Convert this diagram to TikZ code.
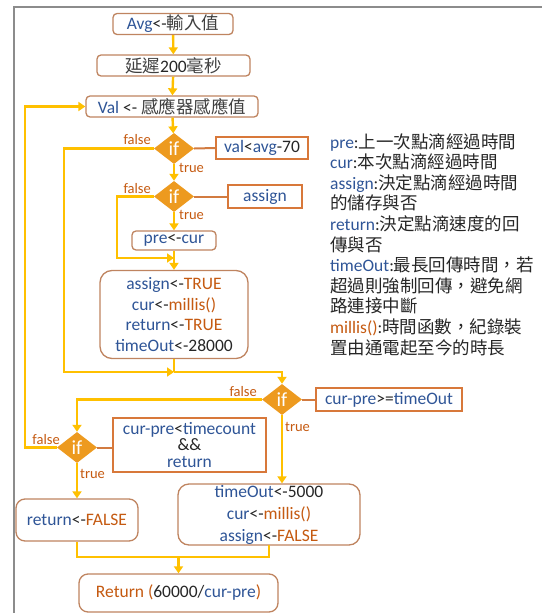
\documentclass[tikz,border=0pt]{standalone}
\usepackage{fontspec}
\setmainfont{Carlito}
\newfontfamily\cjk{Noto Sans CJK TC}
\usetikzlibrary{shapes.geometric,arrows.meta}

\definecolor{cblue}{HTML}{2F5597}
\definecolor{corange}{HTML}{C55A11}
\definecolor{ctext}{HTML}{262626}
\definecolor{czh}{HTML}{404040}
\definecolor{cgold}{HTML}{FFC000}
\definecolor{cdia}{HTML}{ED9A1F}
\definecolor{cround}{HTML}{BF8460}
\definecolor{csharp}{HTML}{D8783A}
\definecolor{clink}{HTML}{D27B40}
\definecolor{cframe}{HTML}{8C8C8C}

% coloured pieces of text
\newcommand\bl[1]{\textcolor{cblue}{#1}}
\newcommand\og[1]{\textcolor{corange}{#1}}
\newcommand\zh[1]{{\cjk\color{czh}#1}}
\newcommand\zhk[1]{{\cjk\color{ctext}#1}}

\tikzset{
  txt/.style={font=\fontsize{17.5}{20.6}\selectfont, text=ctext},
  rbox/.style={txt, draw=cround, line width=1.3pt, fill=white, rounded corners=4pt,
               inner sep=0pt, align=center},
  sbox/.style={txt, draw=csharp, line width=1.3pt, fill=white,
               inner sep=0pt, align=center},
  ifnode/.style={shape=diamond, fill=cdia, draw=none, inner sep=0pt, aspect=1.29,
                 minimum width=40pt, minimum height=31pt, text=white,
                 font=\fontsize{20}{20}\selectfont},
  flow/.style={draw=cgold, line width=2.4pt, line join=miter},
  flowarr/.style={flow, -{Triangle[length=7pt,width=9pt]}},
  link/.style={draw=clink, line width=2pt},
  lab/.style={font=\fontsize{14.5}{15}\selectfont, text=corange, inner sep=0pt},
}

\begin{document}
\begin{tikzpicture}[x=1pt,y=-1pt]
\useasboundingbox (0,0) rectangle (542,613);

% frame
\draw[cframe, line width=2pt] (14,613) -- (14,7) -- (542,7);

% process boxes
\node[rbox, minimum width=120pt, minimum height=21pt] (n1) at (173,24)
  {\bl{Avg}<-\zh{輸入值}};
\node[rbox, minimum width=153pt, minimum height=21pt] (n2) at (173.5,65.5)
  {\zh{延遲}200\zh{毫秒}};
\node[rbox, minimum width=172pt, minimum height=21pt] (n3) at (172,106.5)
  {\bl{Val} <- \zh{感應器感應值}};

\node[ifnode] (d1) at (174,148.5) {if};
\node[sbox, minimum width=92pt, minimum height=22pt] (c1) at (262,148)
  {\bl{val}<\bl{avg}-70};

\node[ifnode] (d2) at (174,196.5) {if};
\node[sbox, minimum width=74pt, minimum height=23pt] (c2) at (265,196.5)
  {\bl{assign}};

\node[rbox, minimum width=84pt, minimum height=19pt] (n4) at (174,240.5)
  {\bl{pre}<-\bl{cur}};

\node[rbox, rounded corners=12pt, minimum width=148pt, minimum height=88pt] (n5) at (174,314.5)
  {\bl{assign}<-\og{TRUE}\\
   \bl{cur}<-\og{millis()}\\
   \bl{return}<-\og{TRUE}\\
   \bl{timeOut}<-28000};

\node[ifnode] (d3) at (282,399.5) {if};
\node[sbox, minimum width=146pt, minimum height=23pt] (c3) at (389,399.5)
  {\bl{cur-pre}>=\bl{timeOut}};

\node[ifnode] (d4) at (77,447.5) {if};
\node[sbox, minimum width=153pt, minimum height=54pt, font=\fontsize{17.5}{16.5}\selectfont] (c4) at (189.5,445)
  {\bl{cur-pre}<\bl{timecount}\\ \&\&\\ \bl{return}};

\node[rbox, rounded corners=9pt, minimum width=122pt, minimum height=42pt] (n6) at (77,520)
  {\bl{return}<-\og{FALSE}};
\node[rbox, rounded corners=11pt, minimum width=182pt, minimum height=61pt,
      font=\fontsize{17.5}{22}\selectfont] (n7) at (269,514.5)
  {\bl{timeOut}<-5000\\ \bl{cur}<-\og{millis()}\\ \bl{assign}<-\og{FALSE}};

\node[rbox, rounded corners=9pt, minimum width=199pt, minimum height=38pt] (n8) at (178.5,593)
  {\og{Return (}60000/\bl{cur-pre}\og{)}};

% junction points
\coordinate (j1) at (174,258);
\coordinate (j2) at (174,372);
\coordinate (j3) at (178.5,557);

% main flow
\draw[flowarr] (n1) -- (n2);
\draw[flowarr] (n2) -- (n3);
\draw[flowarr] (n3) -- (d1);
\draw[flowarr] (d1) -- (d2);
\draw[flowarr] (d2) -- (n4);
\draw[flow] (n4) -- (j1);
\draw[flowarr] (d2.west) -- (117,196.5) -- (117,258) -- (j1);
\draw[flowarr] (j1) -- (n5);
\draw[flowarr] (d1.west) -- (64,148.5) -- (64,372) -- (j2);
\draw[flow] (n5) -- (j2);
\draw[flowarr] (j2) -- (282,372) -- (d3.north);
\draw[flowarr] (d3.west) -- (77,399.5) -- (d4.north);
\draw[flowarr] (d4.west) -- (25,447.5) -- (25,106.5) -- (n3.west);
\draw[flowarr] (d4) -- (n6);
\draw[flowarr] (d3.south) -- (d3.south |- n7.north);
\draw[flow] (n6.south) -- (77,557) -- (269,557) -- (269,545);
\draw[flowarr] (j3) -- (n8);

% condition links
\draw[link] (d1.east) -- (c1.west);
\draw[link] (d2.east) -- (c2.west);
\draw[link] (d3.east) -- (c3.west);
\draw[link] (d4.east) -- (d4.east -| c4.west);

% branch labels
\node[lab, anchor=east] (f1) at (151,140) {false};
\node[lab, anchor=west] (t1) at (179,168) {true};
\node[lab, anchor=east] (f2) at (151,189) {false};
\node[lab, anchor=west] (t2) at (179,215) {true};
\node[lab, anchor=east] (f3) at (257,392) {false};
\node[lab, anchor=west] (t3) at (285,427) {true};
\node[lab, anchor=east] (f4) at (60,440) {false};
\node[lab, anchor=west] (t4) at (80,474) {true};

% legend
\node[txt, anchor=north west, inner sep=0pt, align=left] (legend) at (330,133)
  {\bl{pre}:\zhk{上一次點滴經過時間}\\
   \bl{cur}:\zhk{本次點滴經過時間}\\
   \bl{assign}:\zhk{決定點滴經過時間}\\
   \zhk{的儲存與否}\\
   \bl{return}:\zhk{決定點滴速度的回}\\
   \zhk{傳與否}\\
   \bl{timeOut}:\zhk{最長回傳時間，若}\\
   \zhk{超過則強制回傳，避免網}\\
   \zhk{路連接中斷}\\
   \og{millis()}:\zhk{時間函數，紀錄裝}\\
   \zhk{置由通電起至今的時長}};
\end{tikzpicture}
\end{document}
